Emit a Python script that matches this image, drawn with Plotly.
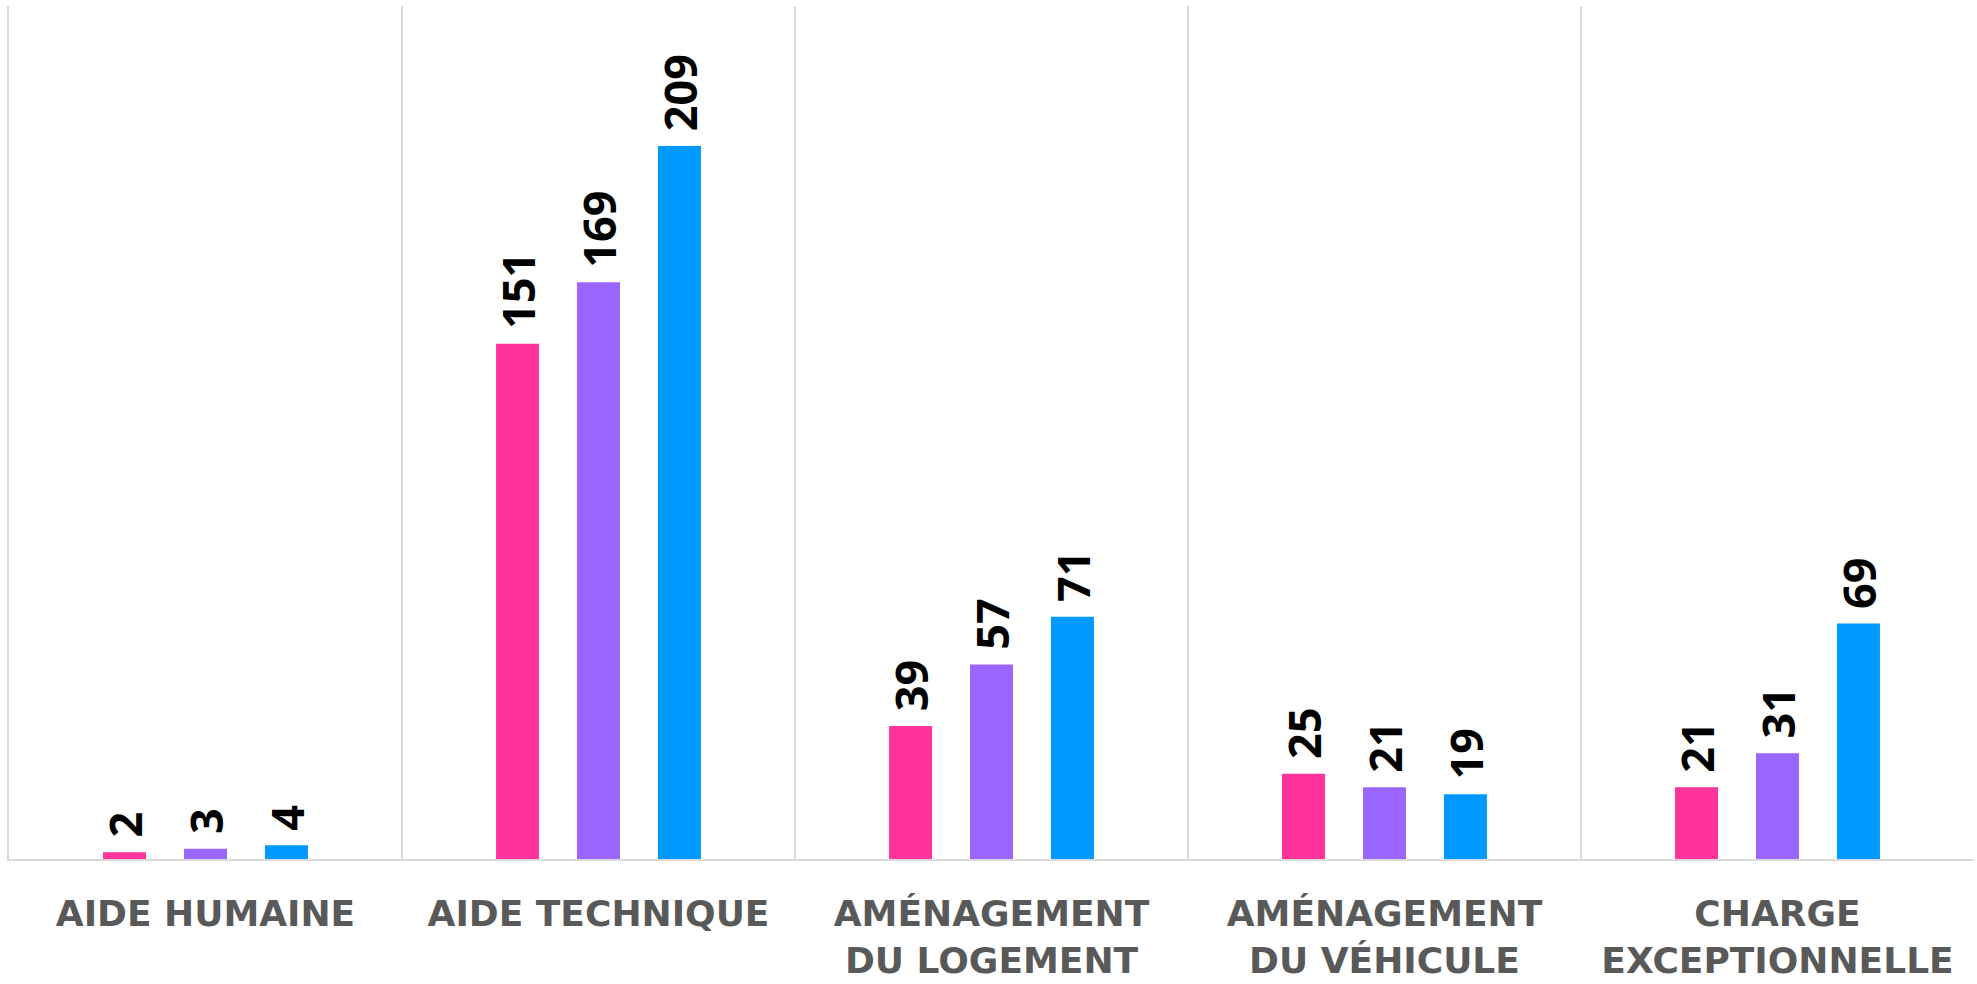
import plotly.graph_objects as go

categories = ["AIDE HUMAINE", "AIDE TECHNIQUE", "AMÉNAGEMENT<br>DU LOGEMENT",
              "AMÉNAGEMENT<br>DU VÉHICULE", "CHARGE<br>EXCEPTIONNELLE"]
series_names = ["Série 1", "Série 2", "Série 3"]
series_values = [
    [2, 151, 39, 25, 21],
    [3, 169, 57, 21, 31],
    [4, 209, 71, 19, 69],
]
colors = ["#FF3399", "#9966FF", "#0099FF"]

fig = go.Figure()
for name, vals, col in zip(series_names, series_values, colors):
    fig.add_trace(go.Bar(
        x=categories, y=vals, name=name, marker=dict(color=col, line=dict(width=0)),
        text=[str(v) for v in vals], texttemplate="\u00a0%{text}",
        textposition="outside", textangle=-90,
        constraintext="none", cliponaxis=False,
        textfont=dict(family="Open Sans", size=45, color="#000000", weight="bold"),
        showlegend=False,
    ))

fig.update_layout(
    width=1977, height=984,
    margin=dict(l=9, r=3, t=6, b=125, autoexpand=False),
    paper_bgcolor="white", plot_bgcolor="white",
    barmode="group", bargap=0.382, bargroupgap=0.469,
    xaxis=dict(
        type="category", tickson="boundaries", showgrid=True, gridcolor="#D9D9D9", gridwidth=2,
        showline=True, linecolor="#D9D9D9", linewidth=2,
        ticks="", ticklabelstandoff=22,
        tickfont=dict(family="DejaVu Sans", size=36, color="#595959", weight="bold"),
    ),
    yaxis=dict(range=[0, 250], showgrid=False, showticklabels=False, zeroline=False,
               showline=True, linecolor="#D9D9D9", linewidth=2),
)

fig.write_html("out.html", config={"displayModeBar": False},
               post_script="document.body.style.margin='0';")
